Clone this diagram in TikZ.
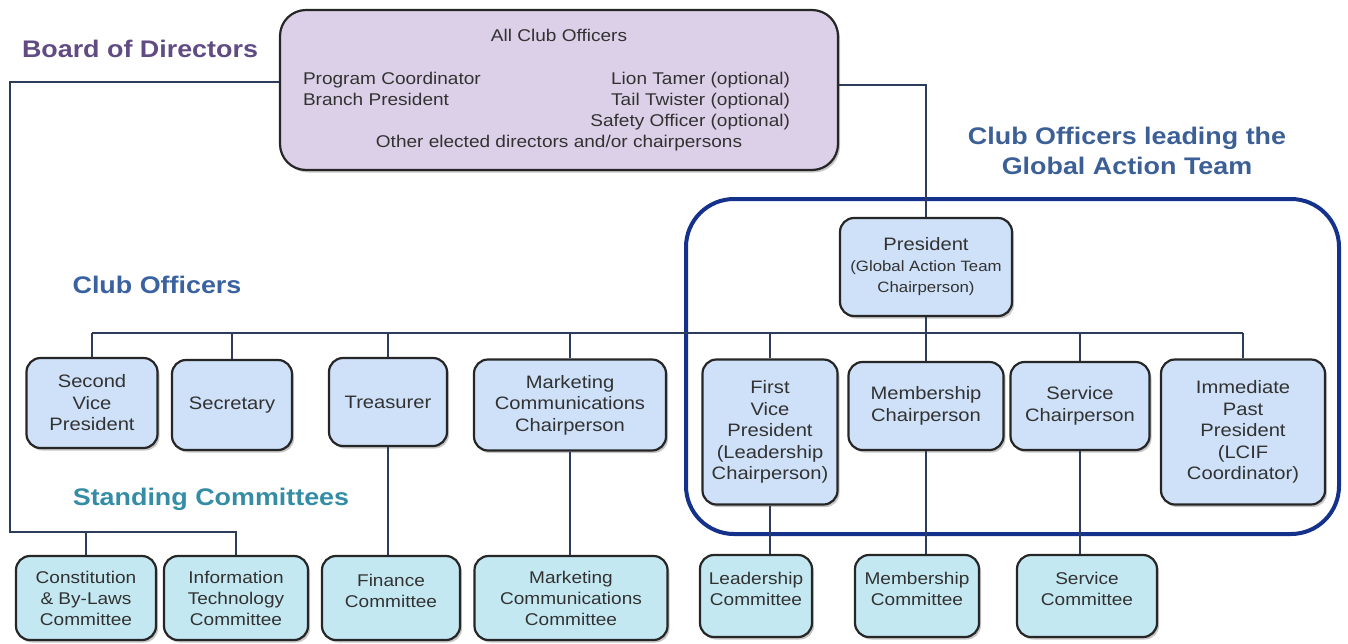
\documentclass[tikz,border=0pt]{standalone}
\usepackage{fontspec}
\setmainfont{Liberation Sans}[FakeStretch=1.12]
\usetikzlibrary{shadows}
\definecolor{dirpurple}{RGB}{96,76,130}
\definecolor{offblue}{RGB}{58,98,160}
\definecolor{gatblue}{RGB}{60,95,150}
\definecolor{comteal}{RGB}{52,140,165}
\definecolor{teamframe}{RGB}{20,50,140}
\definecolor{linkcol}{RGB}{45,60,90}
\definecolor{boardfill}{RGB}{220,208,232}
\definecolor{offfill}{RGB}{206,225,248}
\definecolor{comfill}{RGB}{196,232,242}
\definecolor{boxtext}{RGB}{50,50,50}

\begin{document}
\begin{tikzpicture}[x=1pt,y=1pt]
            \tikzstyle{every node}+=[inner sep=0pt, text=boxtext, align=center]
            \tikzstyle{unitbox}=[draw=black!85, line width=2.2pt, rounded corners=14pt, drop shadow={shadow xshift=2pt, shadow yshift=-2.5pt, opacity=0.45}]
            \tikzstyle{officer}=[unitbox, fill=offfill, font=\fontsize{18}{21.5}\selectfont]
            \tikzstyle{committee}=[unitbox, fill=comfill, font=\fontsize{17}{21}\selectfont]
            \tikzstyle{link}=[draw=linkcol, line width=1.4pt]
            \tikzstyle{heading}=[font=\fontsize{24}{30}\selectfont\bfseries]
            \useasboundingbox (0,0) rectangle (1348,-643);
            % frame of the global action team
            \node [draw=teamframe, line width=4pt, rounded corners=48pt, minimum width=653pt, minimum height=335pt] (team) at (1012.5,-366.5) {};
            % headings
            \node [heading, text=dirpurple] (bodlabel) at (140,-49) {Board of Directors};
            \node [heading, text=offblue] (offlabel) at (157,-285) {Club Officers};
            \node [heading, text=comteal] (comlabel) at (211,-499) {Standing Committees};
            \node [heading, text=gatblue] (gatlabel) at (1127,-151) {Club Officers leading the\\Global Action Team};
            % board of directors
            \node [unitbox, fill=boardfill, rounded corners=26pt, minimum width=558pt, minimum height=160pt, font=\fontsize{17}{21}\selectfont] (board) at (559,-90) {All Club Officers\\[22pt]
              \makebox[512pt][l]{\makebox[487pt]{Program Coordinator\hfill Lion Tamer (optional)}}\\
              \makebox[512pt][l]{\makebox[487pt]{Branch President\hfill Tail Twister (optional)}}\\
              \makebox[512pt][l]{\makebox[487pt]{\hfill Safety Officer (optional)}}\\
              Other elected directors and/or chairpersons};
            % club officers
            \node [officer, minimum width=172pt, minimum height=98pt] (pres) at (926,-267) {President\\[-1pt]{\fontsize{15}{20}\selectfont (Global Action Team}\\{\fontsize{15}{20}\selectfont Chairperson)}};
            \node [officer, minimum width=131pt, minimum height=90pt] (svp) at (92,-403) {Second\\Vice\\President};
            \node [officer, minimum width=120pt, minimum height=90pt] (sec) at (232,-405) {Secretary};
            \node [officer, minimum width=118pt, minimum height=88pt] (tre) at (388,-402) {Treasurer};
            \node [officer, minimum width=192pt, minimum height=91pt] (mkc) at (570,-405) {Marketing\\Communications\\Chairperson};
            \node [officer, minimum width=135pt, minimum height=145pt] (fvp) at (770,-432) {First\\Vice\\President\\(Leadership\\Chairperson)};
            \node [officer, minimum width=155pt, minimum height=88pt] (memc) at (926,-406) {Membership\\Chairperson};
            \node [officer, minimum width=139pt, minimum height=88pt] (svc) at (1080,-406) {Service\\Chairperson};
            \node [officer, minimum width=164pt, minimum height=145pt] (ipp) at (1243,-432) {Immediate\\Past\\President\\(LCIF\\Coordinator)};
            % standing committees
            \node [committee, minimum width=140pt, minimum height=84pt] (cbl) at (86,-598) {Constitution\\\&~By-Laws\\Committee};
            \node [committee, minimum width=144pt, minimum height=84pt] (itc) at (236,-598) {Information\\Technology\\Committee};
            \node [committee, minimum width=138pt, minimum height=84pt] (fin) at (391,-598) {Finance\\Committee\\[-6pt]\mbox{}};
            \node [committee, minimum width=193pt, minimum height=84pt] (mkcom) at (571,-598) {Marketing\\Communications\\Committee};
            \node [committee, minimum width=112pt, minimum height=82pt] (ldc) at (756,-596) {Leadership\\Committee\\[-6pt]\mbox{}};
            \node [committee, minimum width=124pt, minimum height=82pt] (memcom) at (917,-596) {Membership\\Committee\\[-6pt]\mbox{}};
            \node [committee, minimum width=140pt, minimum height=82pt] (svcom) at (1087,-596) {Service\\Committee\\[-6pt]\mbox{}};
            % connectors
            \coordinate (bus) at (0,-333);
            \coordinate (rail) at (10,-532);
            \draw [link] ([yshift=8pt]board.west) -| (rail) -| (itc.north);
            \draw [link] (cbl.north) -- (cbl.north |- rail);
            \draw [link] ([yshift=5pt]board.east) -| (pres.north);
            \draw [link] (pres.south) -- (memc.north);
            \draw [link] (svp.north |- bus) -- (ipp.north |- bus);
            \foreach \n in {svp,sec,tre,mkc,fvp,svc,ipp}
              \draw [link] (\n.north) -- (\n.north |- bus);
            \foreach \a/\b in {tre/fin,mkc/mkcom,fvp/ldc,memc/memcom,svc/svcom}
              \draw [link] (\a.south) -- (\a.south |- \b.north);
        \end{tikzpicture}
\end{document}
